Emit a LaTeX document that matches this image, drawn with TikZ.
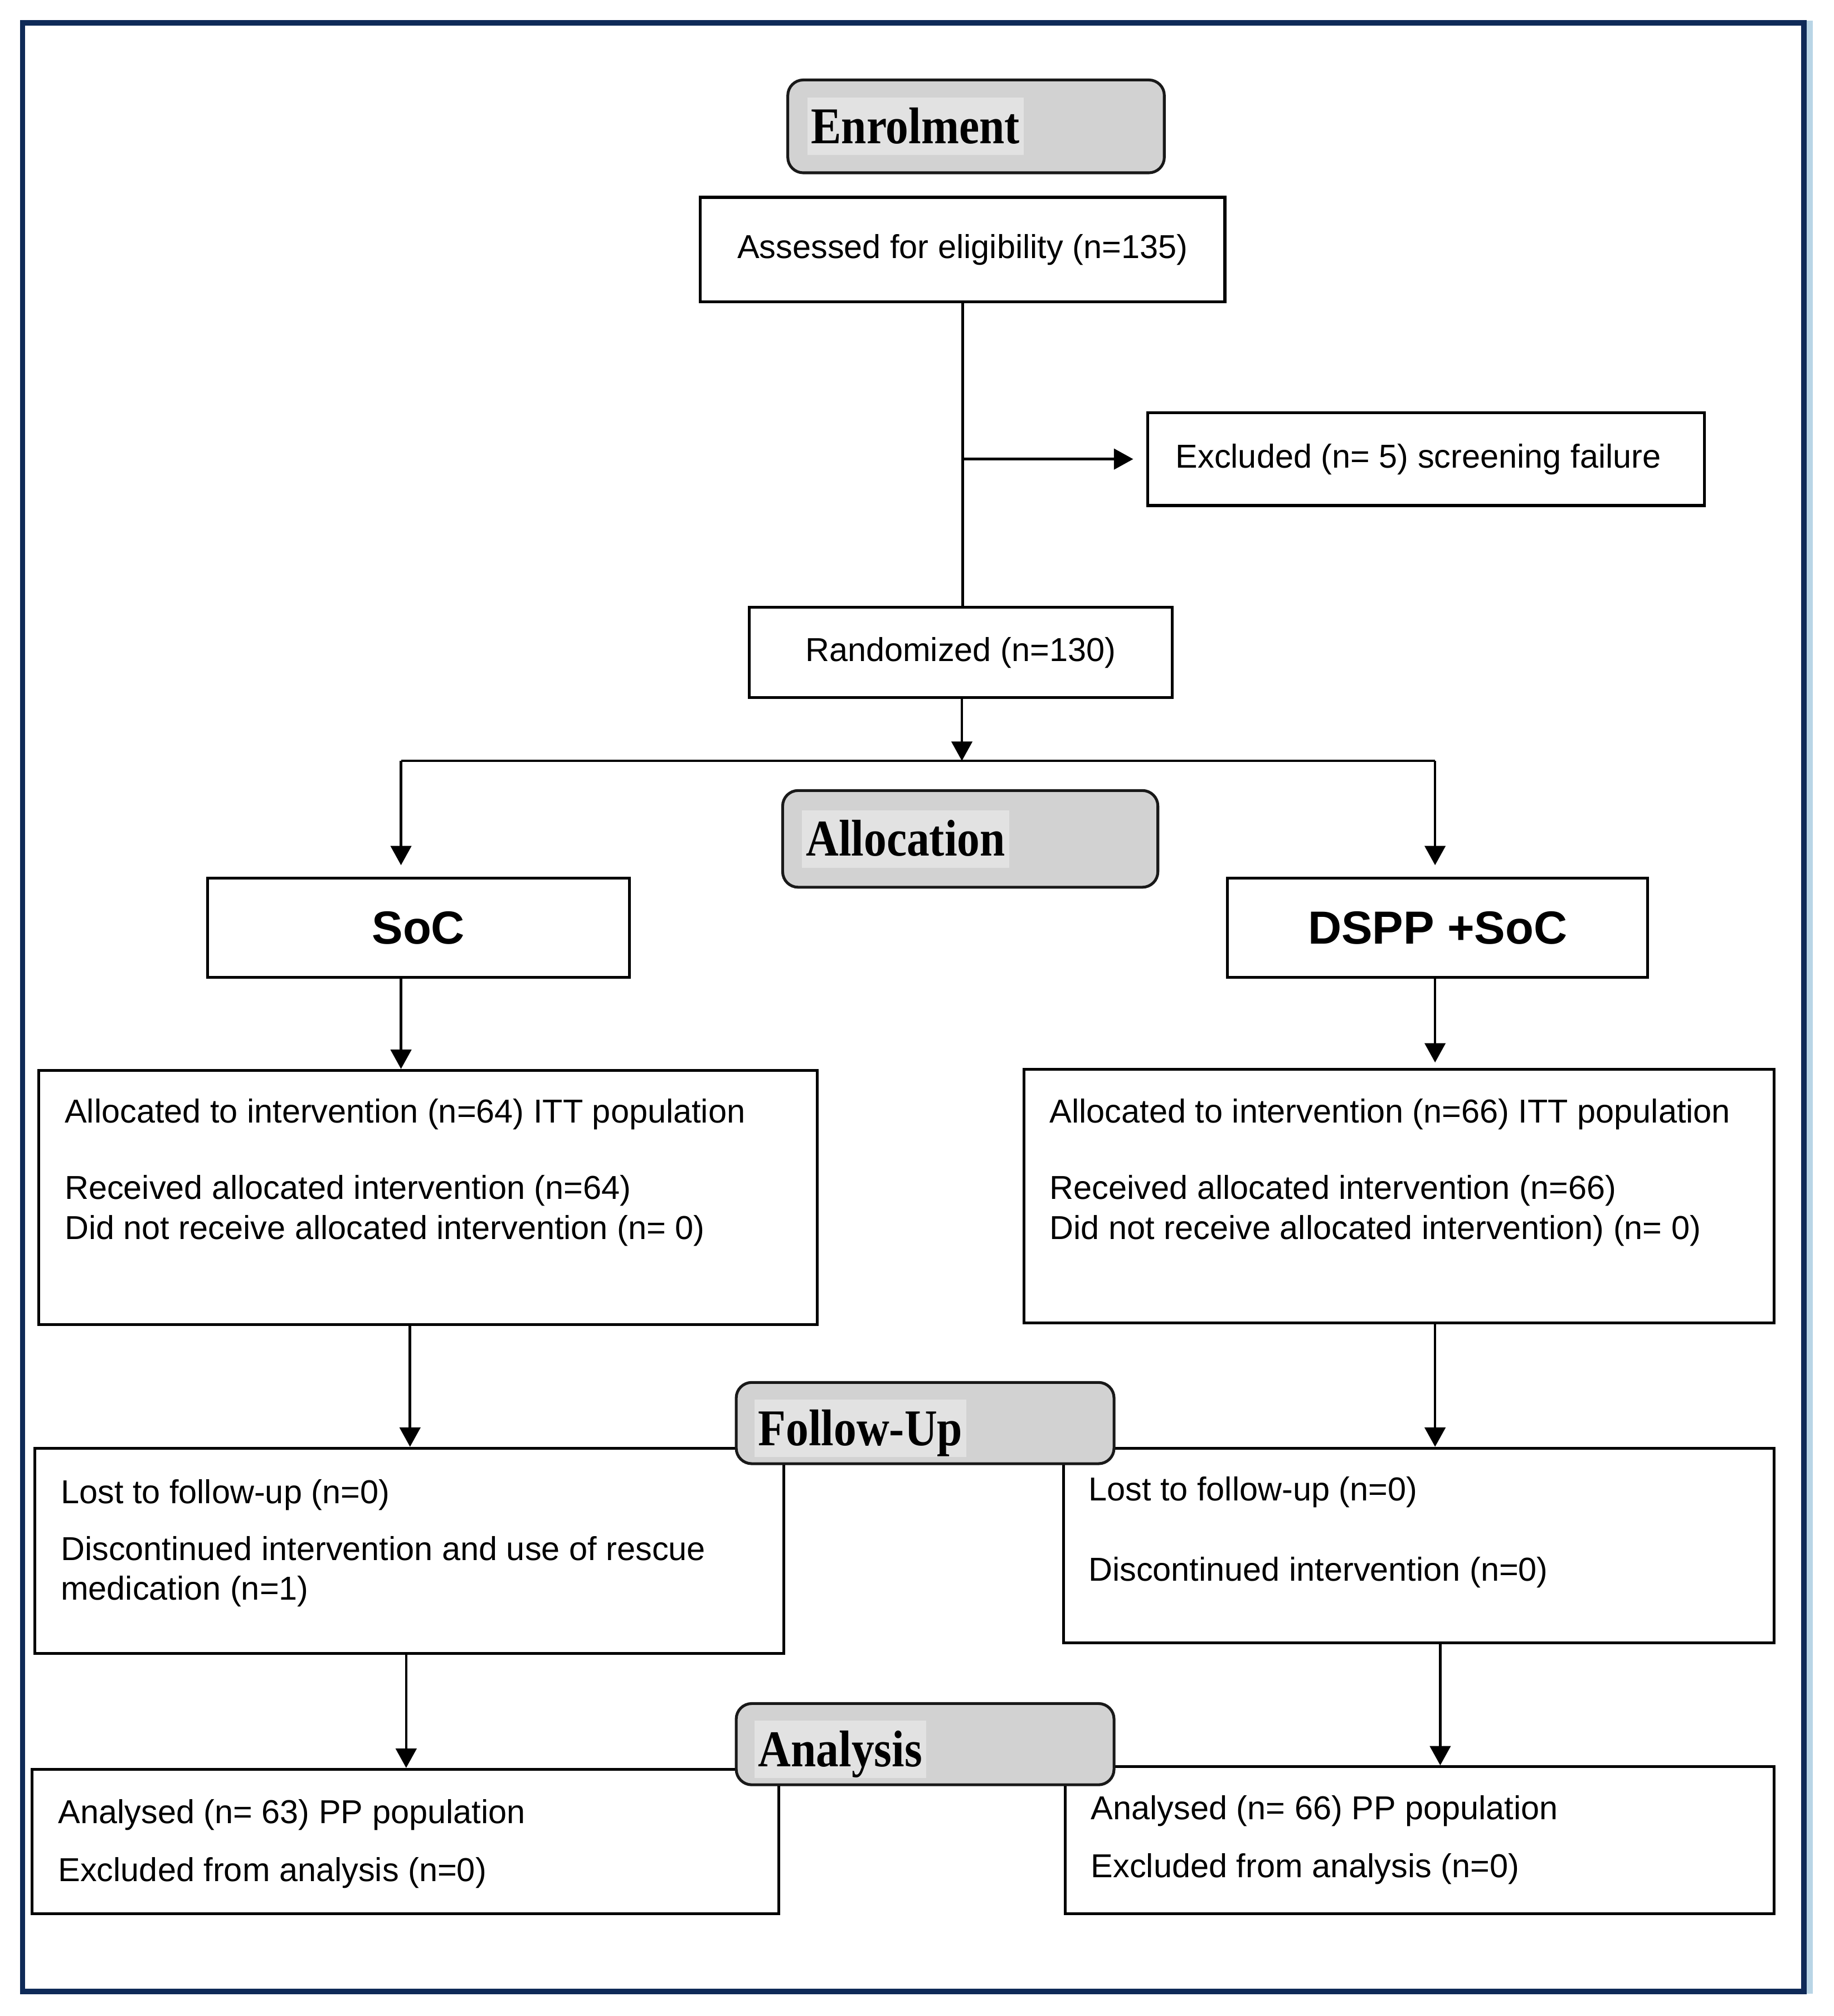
\documentclass[tikz,border=0pt]{standalone}
\usepackage{fontspec}
\setmainfont{Liberation Sans}
\newfontfamily\stagefont{Liberation Serif}
\usetikzlibrary{arrows.meta,calc}
\definecolor{framenavy}{HTML}{0F2A58}
\definecolor{frameshadow}{HTML}{B9D5E6}
\definecolor{stagefill}{HTML}{D2D2D2}
\definecolor{stagehi}{HTML}{E2E2E2}
\tikzset{
  box/.style={draw=black, line width=2.2pt, fill=white, inner sep=0pt,
    font=\fontsize{25.7}{31}\selectfont},
  stagebox/.style={draw=black!90, line width=2.2pt, fill=stagefill,
    rounded corners=12pt, inner sep=0pt},
  stagelabel/.style={fill=stagehi, anchor=west, inner xsep=3pt, inner ysep=9pt,
    font=\stagefont\bfseries\fontsize{40}{40}\selectfont,
    text height=26.5pt, text depth=0pt},
  armlabel/.style={font=\bfseries\fontsize{36}{36}\selectfont},
  bodytext/.style={font=\fontsize{25.7}{31}\selectfont, align=left,
    anchor=north west, inner sep=0pt},
  conn/.style={line width=2pt, draw=black},
  arr/.style={conn, -{Triangle[length=15pt,width=16pt]}},
}
\begin{document}
\begin{tikzpicture}[x=1pt,y=-1pt]
\useasboundingbox (0,0) rectangle (1422,1563.3);
% outer frame
\draw[frameshadow, line width=5.3pt] (1403.4,16) -- (1403.4,1546);
\draw[framenavy, line width=4.3pt] (17.5,17.7) rectangle (1399,1544.2);

% boxes
\node[box, minimum width=407pt, minimum height=81pt] (assess) at (746.5,193.5)
  {Assessed for eligibility (n=135)};
\node[box, minimum width=432pt, minimum height=72pt] (excl) at (1106,356)
  {Excluded (n= 5) screening failure\hspace*{12pt}};
\node[box, minimum width=328pt, minimum height=70pt] (rand) at (745,506)
  {Randomized (n=130)};
\node[box, armlabel, minimum width=327pt, minimum height=77pt] (soc) at (324.5,719.5) {SoC};
\node[box, armlabel, minimum width=326pt, minimum height=77pt] (dspp) at (1115,719.5) {DSPP +SoC};
\node[box, minimum width=604pt, minimum height=197pt] (allocL) at (332,928.5) {};
\node[box, minimum width=582pt, minimum height=197pt] (allocR) at (1085,927.5) {};
\node[box, minimum width=581pt, minimum height=159pt] (followL) at (317.5,1202.5) {};
\node[box, minimum width=551pt, minimum height=151pt] (followR) at (1100.5,1198.5) {};
\node[box, minimum width=579pt, minimum height=112pt] (analL) at (314.5,1428) {};
\node[box, minimum width=550pt, minimum height=114pt] (analR) at (1101,1427) {};

% box texts
\node[bodytext] (allocLt) at (50,852) {Allocated to intervention (n=64) ITT population\\[28pt]
  Received allocated intervention (n=64)\\
  Did not receive allocated intervention (n= 0)};
\node[bodytext] (allocRt) at (814,852) {Allocated to intervention (n=66) ITT population\\[28pt]
  Received allocated intervention (n=66)\\
  Did not receive allocated intervention) (n= 0)};
\node[bodytext] (followLt) at (47,1147) {Lost to follow-up (n=0)\\[13pt]
  Discontinued intervention and use of rescue\\
  medication (n=1)};
\node[bodytext] (followRt) at (844,1145) {Lost to follow-up (n=0)\\[31pt]
  Discontinued intervention (n=0)};
\node[bodytext] (analLt) at (45,1395) {Analysed (n= 63) PP population\\[14pt]
  Excluded from analysis (n=0)};
\node[bodytext] (analRt) at (846,1392) {Analysed (n= 66) PP population\\[14pt]
  Excluded from analysis (n=0)};

% connector coordinates
\coordinate (split) at (746,590);
\coordinate (splitL) at (311,590);
\coordinate (splitR) at (1113,590);
\coordinate (xa) at (318,0);
\coordinate (xb) at (315,0);
\coordinate (xc) at (1117,0);

% connectors
\draw[conn] (assess.south) -- (assess.south |- rand.north);
\draw[arr, shorten >=10pt] (assess.south |- excl.west) -- (excl.west);
\draw[arr] (split |- rand.south) -- (split);
\draw[conn] (splitL) -- (splitR);
\draw[arr, shorten >=9pt] (splitL) -- (splitL |- soc.north);
\draw[arr, shorten >=9pt] (splitR) -- (splitR |- dspp.north);
\draw[arr] (soc.south -| splitL) -- (splitL |- allocL.north);
\draw[arr, shorten >=4pt] (dspp.south -| splitR) -- (splitR |- allocR.north);
\draw[arr] (allocL.south -| xa) -- (followL.north -| xa);
\draw[arr] (allocR.south -| splitR) -- (followR.north -| splitR);
\draw[arr] (followL.south -| xb) -- (analL.north -| xb);
\draw[arr] (followR.south -| xc) -- (analR.north -| xc);

% stage boxes
\node[stagebox, minimum width=292pt, minimum height=72pt] (enrol) at (757,98) {};
\node[stagelabel] (enrolt) at ([xshift=16pt]enrol.west) {\scalebox{0.88}[1]{Enrolment}};
\node[stagebox, minimum width=291pt, minimum height=75pt] (alloc) at (752.5,650.5) {};
\node[stagelabel] (alloct) at ([xshift=16pt]alloc.west) {\scalebox{0.88}[1]{Allocation}};
\node[stagebox, minimum width=293pt, minimum height=63pt] (follow) at (717.5,1103.5) {};
\node[stagelabel] (followt) at ([xshift=15pt,yshift=-4pt]follow.west) {\scalebox{0.88}[1]{Follow-Up}};
\node[stagebox, minimum width=293pt, minimum height=63pt] (analysis) at (717.5,1352.5) {};
\node[stagelabel] (analysist) at ([xshift=15pt,yshift=-4pt]analysis.west) {\scalebox{0.88}[1]{Analysis}};
\end{tikzpicture}
\end{document}
